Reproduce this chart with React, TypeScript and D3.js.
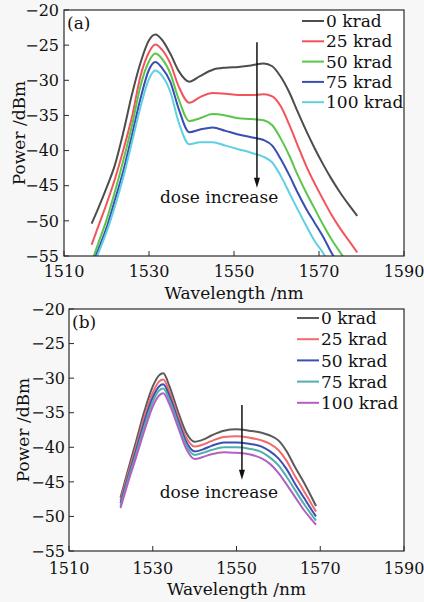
import React from 'react';
import * as d3 from 'd3';

// ---------- Data: panel (a) ----------
const wavelengthA = [1516.5, 1518, 1520, 1522, 1524, 1526, 1528, 1530, 1531.5, 1533, 1535, 1537, 1539.5, 1542, 1545, 1548, 1551, 1554, 1557, 1559, 1561, 1563, 1565, 1567, 1569, 1571, 1573, 1575, 1577, 1579];
const powerA0 = [-50.4, -48.3, -45.3, -42.0, -37.3, -32.0, -27.5, -24.3, -23.5, -24.2, -26.2, -28.7, -30.2, -29.4, -28.5, -28.2, -28.1, -27.9, -27.6, -28.0, -29.5, -31.7, -34.5, -37.2, -39.7, -42.0, -44.1, -46.0, -47.7, -49.3];
const powerA25 = [-53.4, -50.9, -47.6, -44.0, -39.8, -35.2, -29.4, -26.0, -24.9, -25.6, -27.6, -30.9, -33.2, -32.4, -31.8, -31.9, -32.1, -32.1, -32.0, -32.3, -33.7, -36.3, -39.3, -42.2, -44.7, -47.0, -49.2, -51.1, -52.8, -54.5];
const powerA50 = [-55.9, -53.3, -49.9, -45.8, -41.3, -36.4, -30.8, -27.3, -26.2, -26.9, -29.0, -32.7, -35.8, -35.4, -34.8, -35.0, -35.4, -35.5, -35.7, -36.4, -38.3, -40.7, -43.5, -46.0, -48.3, -50.6, -52.7, -54.5, -56.2, -57.8];
const powerA75 = [-56.6, -54.2, -51.0, -47.0, -42.8, -37.8, -32.6, -28.5, -27.4, -28.2, -30.2, -34.1, -37.4, -37.0, -36.7, -37.2, -37.7, -38.1, -38.5, -39.3, -41.2, -43.5, -46.0, -48.3, -50.3, -52.3, -54.6, -56.5, -58.3, -60.0];
const powerA100 = [-57.0, -54.7, -51.6, -47.9, -43.7, -38.8, -33.8, -29.8, -28.6, -29.3, -31.6, -36.0, -39.1, -38.8, -38.8, -39.3, -39.8, -40.3, -40.9, -41.7, -43.6, -46.0, -48.4, -50.7, -52.9, -54.6, -57.0, -59.0, -61.0, -63.0];

// ---------- Data: panel (b) ----------
const wavelengthB = [1522.3, 1524, 1526, 1528, 1530, 1531.5, 1532.5, 1534, 1536, 1538, 1540, 1542, 1544, 1547, 1550, 1553, 1556, 1558, 1560, 1562, 1564, 1566, 1568, 1569];
const powerB0 = [-47.3, -43.5, -39.2, -34.8, -31.2, -29.6, -29.3, -31.2, -34.8, -37.9, -39.2, -38.9, -38.3, -37.6, -37.4, -37.6, -37.9, -38.3, -39.0, -40.6, -42.9, -45.0, -47.3, -48.5];
const powerB25 = [-47.7, -44.0, -39.9, -35.6, -32.1, -30.5, -30.2, -32.0, -35.5, -38.6, -39.9, -39.6, -39.1, -38.5, -38.4, -38.6, -39.0, -39.5, -40.4, -42.0, -44.2, -46.2, -48.3, -49.3];
const powerB50 = [-48.1, -44.5, -40.5, -36.3, -32.8, -31.2, -30.9, -32.6, -36.0, -39.2, -40.6, -40.3, -39.8, -39.3, -39.3, -39.5, -39.9, -40.6, -41.6, -43.2, -45.3, -47.2, -49.1, -50.0];
const powerB75 = [-48.5, -44.9, -41.0, -37.0, -33.4, -31.8, -31.5, -33.2, -36.5, -39.7, -41.1, -40.8, -40.4, -40.0, -40.0, -40.2, -40.7, -41.5, -42.6, -44.3, -46.2, -48.1, -49.8, -50.6];
const powerB100 = [-48.8, -45.3, -41.5, -37.6, -34.1, -32.5, -32.2, -33.8, -37.0, -40.2, -41.7, -41.4, -41.0, -40.7, -40.8, -41.0, -41.6, -42.4, -43.7, -45.4, -47.2, -49.0, -50.5, -51.2];

const doseLabels = ['0 krad', '25 krad', '50 krad', '75 krad', '100 krad'];
const xTicks = [1510, 1530, 1550, 1570, 1590];
const yTicks = [-20, -25, -30, -35, -40, -45, -50, -55];
const xDomain = [1510, 1590];
const yDomain = [-55, -20];

const colorsA = ['#4d4d4d', '#f2545b', '#5cc54c', '#3a4db3', '#5fd0e2'];
const colorsB = ['#5a5a5a', '#f26a6c', '#3d4eb2', '#4fb0ac', '#b45fc2'];

const FONT = '"DejaVu Serif", "Liberation Serif", serif';

type Box = { left: number; right: number; top: number; bottom: number };

function Panel(props: {
  id: string;
  box: Box;
  wl: number[];
  series: number[][];
  colors: string[];
  tag: string;
  arrowX: number;
  arrowY: [number, number];
  textAt: [number, number];
  legendX: number;
  legendY: number;
  legendStep: number;
  yLabelX: number;
  xLabelDy: number;
  tickDy: number;
  yTickPad: number;
}) {
  const { box, wl, series, colors } = props;
  const x = d3.scaleLinear().domain(xDomain).range([box.left, box.right]);
  const y = d3.scaleLinear().domain(yDomain).range([box.bottom, box.top]);
  const line = d3
    .line<[number, number]>()
    .x((d) => x(d[0]))
    .y((d) => y(d[1]))
    .curve(d3.curveMonotoneX);
  const fmt = d3.format('d');
  const clipId = 'clip-' + props.id;
  const ax = x(props.arrowX);
  const ay0 = y(props.arrowY[0]);
  const ay1 = y(props.arrowY[1]);
  return (
    <g>
      <defs>
        <clipPath id={clipId}>
          <rect x={box.left} y={box.top} width={box.right - box.left} height={box.bottom - box.top} />
        </clipPath>
      </defs>
      <rect x={box.left} y={box.top} width={box.right - box.left} height={box.bottom - box.top} fill="#fff" />
      <g clipPath={`url(#${clipId})`}>
        {series.map((s, i) => (
          <path
            key={i}
            d={line(wl.map((w, j) => [w, s[j]] as [number, number])) || ''}
            fill="none"
            stroke={colors[i]}
            strokeWidth={2}
            strokeLinejoin="round"
          />
        ))}
      </g>
      {/* frame */}
      <rect
        x={box.left}
        y={box.top}
        width={box.right - box.left}
        height={box.bottom - box.top}
        fill="none"
        stroke="#2a2a2a"
        strokeWidth={1.2}
      />
      {/* x ticks */}
      {xTicks.map((t) => (
        <g key={'x' + t}>
          <line x1={x(t)} x2={x(t)} y1={box.bottom} y2={box.bottom - 5} stroke="#2a2a2a" strokeWidth={1} />
          <text x={x(t)} y={box.bottom + props.tickDy} textAnchor="middle" fontFamily={FONT} fontSize={16} fill="#111">
            {fmt(t)}
          </text>
        </g>
      ))}
      {/* y ticks */}
      {yTicks.map((t) => (
        <g key={'y' + t}>
          <line x1={box.left} x2={box.left + 5} y1={y(t)} y2={y(t)} stroke="#2a2a2a" strokeWidth={1} />
          <text
            x={box.left - props.yTickPad}
            y={y(t)}
            dy="0.36em"
            textAnchor="end"
            fontFamily={FONT}
            fontSize={16}
            fill="#111"
          >
            {fmt(t)}
          </text>
        </g>
      ))}
      <text
        x={(box.left + box.right) / 2}
        y={box.bottom + props.xLabelDy}
        textAnchor="middle"
        fontFamily={FONT}
        fontSize={17}
        fill="#111"
      >
        Wavelength /nm
      </text>
      <text
        transform={`translate(${props.yLabelX},${(box.top + box.bottom) / 2}) rotate(-90)`}
        textAnchor="middle"
        fontFamily={FONT}
        fontSize={17}
        fill="#111"
      >
        Power /dBm
      </text>
      <text x={box.left + 3} y={box.top + 19} fontFamily={FONT} fontSize={17} fill="#111">
        {props.tag}
      </text>
      {/* legend */}
      {doseLabels.map((lab, i) => {
        const ly = props.legendY + i * props.legendStep;
        return (
          <g key={lab}>
            <line x1={props.legendX} x2={props.legendX + 22} y1={ly} y2={ly} stroke={colors[i]} strokeWidth={2} />
            <text x={props.legendX + 24} y={ly} dy="0.36em" fontFamily={FONT} fontSize={17} fill="#111">
              {lab}
            </text>
          </g>
        );
      })}
      {/* arrow */}
      <line x1={ax} x2={ax} y1={ay0} y2={ay1 - 8} stroke="#111" strokeWidth={1.5} />
      <path d={`M${ax - 3},${ay1 - 10} L${ax + 3},${ay1 - 10} L${ax},${ay1} Z`} fill="#111" />
      <text x={x(props.textAt[0])} y={y(props.textAt[1])} textAnchor="middle" fontFamily={FONT} fontSize={17} fill="#111">
        dose increase
      </text>
    </g>
  );
}

export default function App() {
  return (
    <svg
      width={424}
      height={602}
      style={{ position: 'absolute', left: 0, top: 0, background: '#f7f7f7' }}
      xmlns="http://www.w3.org/2000/svg"
    >
      <Panel
        id="a"
        box={{ left: 64, right: 404, top: 10, bottom: 256 }}
        wl={wavelengthA}
        series={[powerA0, powerA25, powerA50, powerA75, powerA100]}
        colors={colorsA}
        tag="(a)"
        arrowX={1555.4}
        arrowY={[-24.6, -45.3]}
        textAt={[1546.5, -47.45]}
        legendX={302}
        legendY={21}
        legendStep={20.3}
        yLabelX={25}
        xLabelDy={43}
        tickDy={21}
        yTickPad={5}
      />
      <Panel
        id="b"
        box={{ left: 69, right: 404, top: 309, bottom: 551 }}
        wl={wavelengthB}
        series={[powerB0, powerB25, powerB50, powerB75, powerB100]}
        colors={colorsB}
        tag="(b)"
        arrowX={1551.3}
        arrowY={[-33.9, -44.7]}
        textAt={[1545.8, -47.3]}
        legendX={297}
        legendY={318}
        legendStep={21.2}
        yLabelX={29}
        xLabelDy={44}
        tickDy={23}
        yTickPad={4}
      />
    </svg>
  );
}
